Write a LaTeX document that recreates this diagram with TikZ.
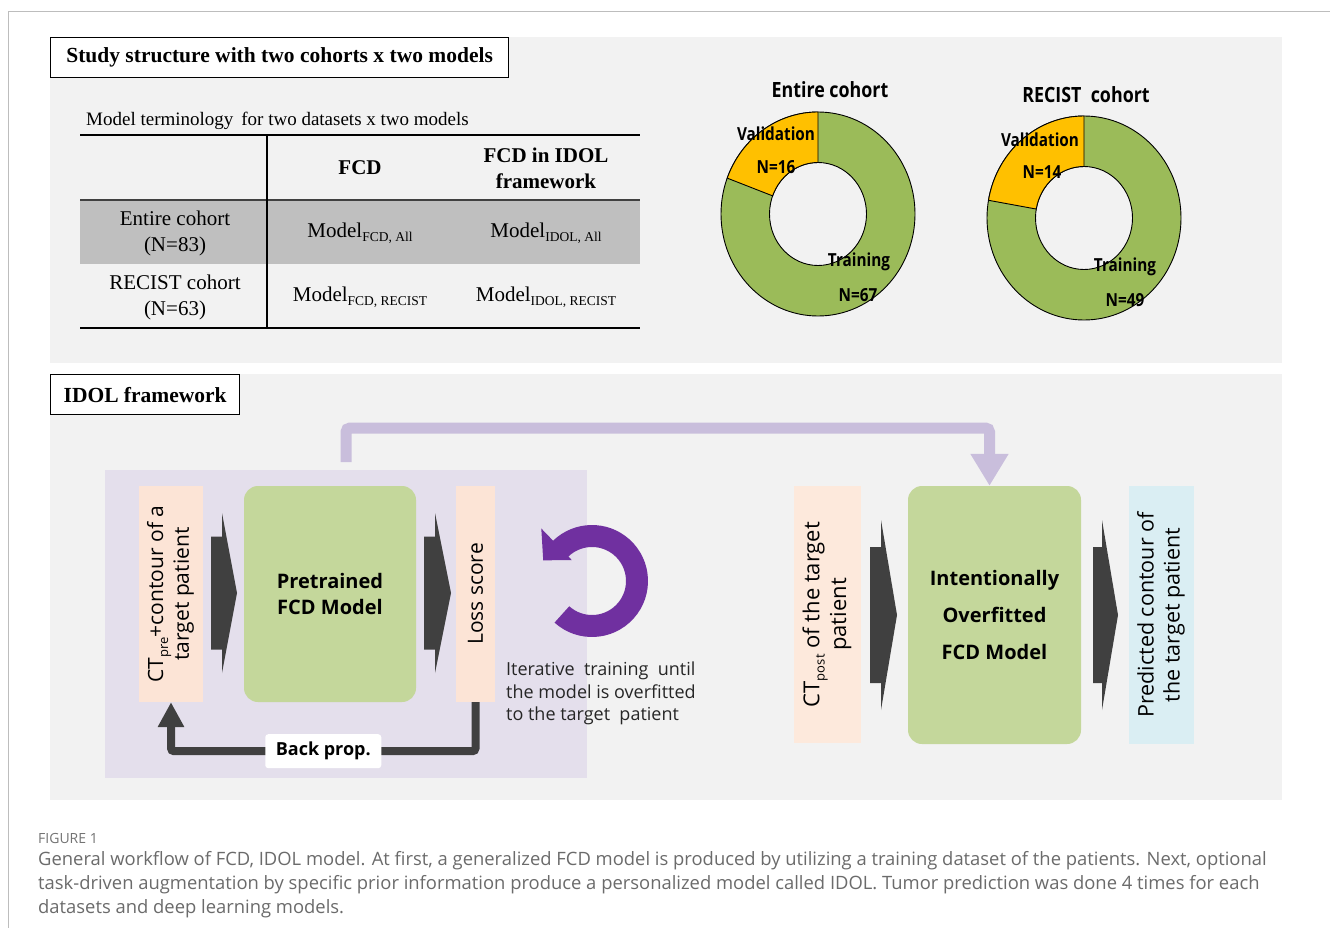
\documentclass[tikz,border=0pt]{standalone}
\usepackage{fontspec}
\setmainfont{Liberation Serif}
\newfontfamily\osans{Open Sans}
\usetikzlibrary{arrows.meta,calc}
\definecolor{panel}{HTML}{F2F2F2}
\definecolor{rowgray}{HTML}{BFBFBF}
\definecolor{dgreen}{HTML}{9BBB59}
\definecolor{dorange}{HTML}{FFC000}
\definecolor{lav}{HTML}{E4DFEC}
\definecolor{peach}{HTML}{FCE4D6}
\definecolor{peachl}{HTML}{FDE9DC}
\definecolor{lgreen}{HTML}{C4D79B}
\definecolor{lblue}{HTML}{DAEEF3}
\definecolor{darkarrow}{HTML}{404040}
\definecolor{pconn}{HTML}{C9BEDC}
\definecolor{cpurple}{HTML}{7030A0}
\definecolor{capgray}{HTML}{6B6B6B}
\definecolor{framegray}{HTML}{BDBDBD}
\newcommand\fs[2]{\fontsize{#1}{#2}\selectfont}
\newcommand\lsub[1]{\raisebox{-0.45ex}{\fs{13.5}{13.5}#1}}
\newcommand\sanssub[1]{\raisebox{-0.45ex}{\fs{13}{13}#1}}
\newcommand\blockarrow[6]{%
  \fill[darkarrow] (#1,{#4-#5}) -- (#2,{#4-#5}) -- (#2,{#4-#6}) -- (#3,#4) -- (#2,{#4+#6}) -- (#2,{#4+#5}) -- (#1,{#4+#5}) -- cycle;}
\newcommand\donut[3]{%
  \fill[dgreen,draw=black,line width=0.9pt,even odd rule] (#1,#2) ellipse[x radius=97,y radius=102] (#1,#2) ellipse[x radius=48.5,y radius=51.5];
  \filldraw[fill=dorange,draw=black,line width=0.9pt] ([shift={(#1,#2)}]-90:97 and 102) arc[start angle=-90,end angle={-90-#3},x radius=97,y radius=102] -- ([shift={(#1,#2)}]{-90-#3}:48.5 and 51.5) arc[start angle={-90-#3},end angle=-90,x radius=48.5,y radius=51.5] -- cycle;}
\tikzset{
  hdrbox/.style={draw=black,line width=1.3pt,fill=white,anchor=north west,inner sep=0pt,font=\fs{21.5}{24}\bfseries},
  cell/.style={font=\fs{21}{26},align=center,inner sep=0pt},
  dlab/.style={font=\osans\bfseries\fs{18}{20},inner sep=0pt},
  dtitle/.style={font=\osans\bfseries\fs{21}{24},inner sep=0pt},
  vbox/.style={inner sep=0pt,font=\osans\fs{21}{25}},
  modelbox/.style={fill=lgreen,rounded corners=14pt,inner sep=0pt,align=center,font=\osans\bfseries\fs{20}{26}},
  bp/.style={draw=darkarrow,line width=8pt,rounded corners=3pt,-{Triangle[width=25pt,length=25pt]}},
  bplabel/.style={fill=white,inner sep=0pt,minimum width=116pt,minimum height=34pt,font=\osans\bfseries\fs{18}{20}},
  purpleconn/.style={draw=pconn,line width=11pt,rounded corners=4pt,-{Triangle[width=36pt,length=32pt]}},
  captxt/.style={anchor=west,inner sep=0pt,font=\osans\fs{18.4}{20},text=capgray}
}
\begin{document}
\begin{tikzpicture}[x=1pt,y=-1pt]
\useasboundingbox (0,0) rectangle (1330,928);
\fill[white] (0,0) rectangle (1330,928);
\draw[framegray,line width=1pt] (1330,12) -- (8,12) -- (8,928);
% panels
\fill[panel] (50,37) rectangle (1282,363);
\fill[panel] (50,374) rectangle (1282,800);
\node[hdrbox,minimum width=458pt,minimum height=40pt] (h1) at (50,37) {Study structure with two cohorts x two models};
\node[hdrbox,minimum width=189pt,minimum height=40pt] (h2) at (50,374) {IDOL framework};
% table
\node[anchor=west,inner sep=0pt,font=\fs{19}{20}] (ttitle) at (86,121) {Model terminology\, for two datasets x two models};
\fill[rowgray] (80,200) rectangle (640,264);
\draw[line width=1.5pt] (80,135) -- (640,135);
\draw[line width=2.2pt,draw=darkarrow] (80,200) -- (640,200);
\draw[line width=2.2pt] (80,328) -- (640,328);
\draw[line width=1.5pt] (267,135) -- (267,328);
\node[cell,font=\fs{21}{26}\bfseries] (cfcd) at (360,168) {FCD};
\node[cell,font=\fs{21}{26}\bfseries] (cidol) at (546,168) {FCD in IDOL\\framework};
\node[cell] (r1) at (175,233) {Entire cohort\\(N=83)};
\node[cell] (r2) at (175,297) {RECIST cohort\\(N=63)};
\node[cell] (m11) at (360,233) {Model\lsub{FCD, All}};
\node[cell] (m12) at (546,233) {Model\lsub{IDOL, All}};
\node[cell] (m21) at (360,297) {Model\lsub{FCD, RECIST}};
\node[cell] (m22) at (546,297) {Model\lsub{IDOL, RECIST}};
% donuts
\donut{818}{214}{69.4}
\donut{1084}{218}{80}
\node[dtitle] (t1) at (830,90) {\scalebox{0.85}[1]{Entire cohort}};
\node[dtitle] (t2) at (1086,95) {\scalebox{0.85}[1]{RECIST\ \ cohort}};
\node[dlab] (v1) at (776,134) {\scalebox{0.85}[1]{Validation}};
\node[dlab] (n1) at (776,167) {\scalebox{0.85}[1]{N=16}};
\node[dlab] (tr1) at (859,262) {\scalebox{0.85}[1]{Training}};
\node[dlab] (n2) at (858,295) {\scalebox{0.85}[1]{N=67}};
\node[dlab] (v2) at (1040,140) {\scalebox{0.85}[1]{Validation}};
\node[dlab] (n3) at (1042,172) {\scalebox{0.85}[1]{N=14}};
\node[dlab] (tr2) at (1125,267) {\scalebox{0.85}[1]{Training}};
\node[dlab] (n4) at (1125,300) {\scalebox{0.85}[1]{N=49}};
% IDOL framework
\fill[lav] (105,470) rectangle (587,778);
\coordinate (pstart) at (346,462);
\node[vbox,fill=peach,minimum width=64pt,minimum height=216pt] (ctpre) at (171,594)
  {\rotatebox{90}{\begin{tabular}{@{}c@{}}CT\sanssub{pre}+contour of a\\target patient\end{tabular}}};
\node[modelbox,minimum width=172pt,minimum height=216pt] (pre) at (330,594) {Pretrained\\FCD Model};
\node[vbox,fill=peach,minimum width=39pt,minimum height=216pt] (loss) at (475.5,594)
  {\rotatebox{90}{Loss score}};
\blockarrow{211}{222}{237}{593}{56.5}{80}
\blockarrow{424}{435}{451}{593}{56.5}{80}
% circular arrow
\fill[cpurple] ([shift={(592,581)}]132:56) arc[start angle=132,end angle=-134,radius=56]
  -- ([shift={(592,581)}]-134:73) -- ([shift={(592,581)}]-157:53) -- ([shift={(592,581)}]-134:29)
  -- ([shift={(592,581)}]-134:34) arc[start angle=-134,end angle=132,radius=34] -- cycle;
\node[anchor=north west,inner sep=0pt,align=left,font=\osans\fs{18}{22.5},text=black!85] (iter) at (506,662)
  {Iterative\ \ training\ \ until\\the\ model\ is\ overfitted\\to\ the\ target\ \ patient};
\draw[bp] (loss.south) -- ++(0,49) -| node[pos=0.25,bplabel]{Back prop.} (ctpre.south);
% right part
\node[vbox,fill=peachl,font=\osans\fs{22}{26},minimum width=67pt,minimum height=257pt] (ctpost) at (827.5,614.5)
  {\rotatebox{90}{\begin{tabular}{@{}c@{}}CT\sanssub{post} of the target\\patient\end{tabular}}};
\node[modelbox,font=\osans\bfseries\fs{20}{37},minimum width=173pt,minimum height=258pt] (ifm) at (994.5,615) {Intentionally\\Overfitted\\FCD Model};
\node[vbox,fill=lblue,font=\osans\fs{21.5}{26},minimum width=65pt,minimum height=258pt] (pred) at (1161.5,615)
  {\rotatebox{90}{\begin{tabular}{@{}c@{}}Predicted contour of\\the target patient\end{tabular}}};
\blockarrow{870}{881}{897}{615}{68}{95}
\blockarrow{1093}{1102}{1118}{615}{68}{95}
\draw[purpleconn] (pstart) -- ++(0,-34) -| ([xshift=-5pt]ifm.north);
% caption
\node[captxt,font=\osans\fs{14}{16},text=black!55] (figlab) at (38,838) {FIGURE 1};
\node[captxt] (cap1) at (38,861) {General workflow of FCD, IDOL model. At first, a generalized FCD model is produced by utilizing a training dataset of the patients. Next, optional};
\node[captxt] (cap2) at (38,885) {task-driven augmentation by specific prior information produce a personalized model called IDOL. Tumor prediction was done 4 times for each};
\node[captxt] (cap3) at (38,909) {datasets and deep learning models.};
\end{tikzpicture}
\end{document}
